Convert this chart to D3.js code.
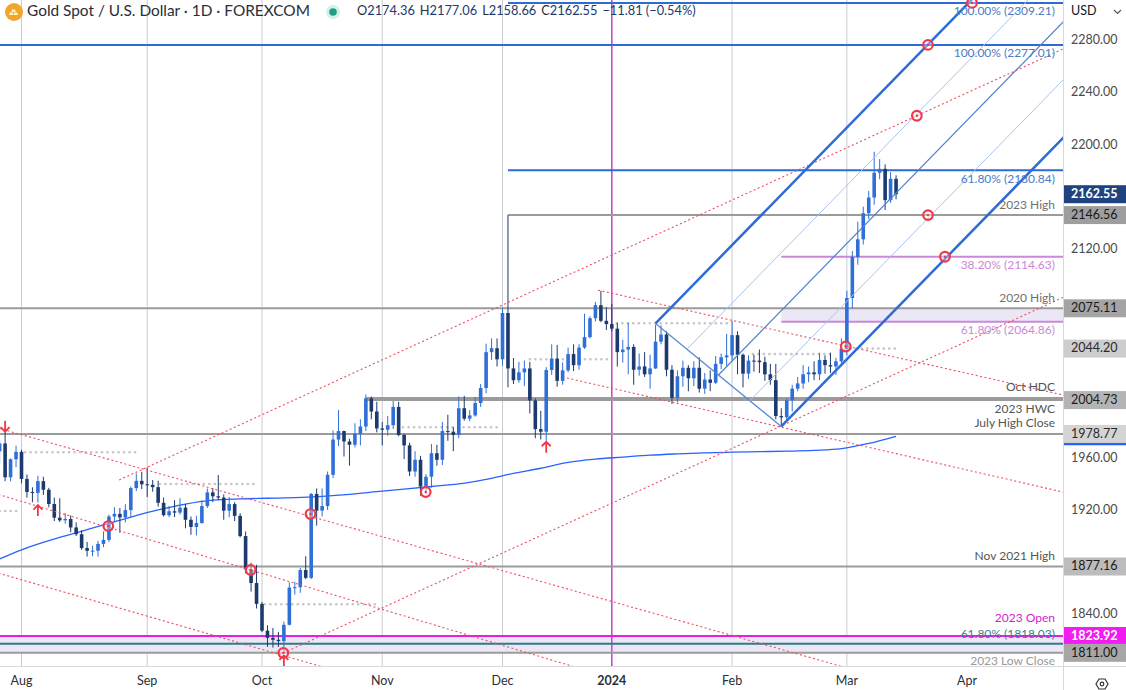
<!DOCTYPE html>
<html><head><meta charset="utf-8">
<script src="https://cdn.jsdelivr.net/npm/d3@7"></script>
<style>
body{margin:0;background:#fff;}
svg{display:block;font-family:Lato,"Open Sans",sans-serif;}
</style></head>
<body><svg id="c" width="1126" height="690"></svg>
<script>
// ---------------- DATA ----------------
const firstBarIndex = -4; // 2023-07-26 ; index 0 = 2023-08-01
const candleDates = [
"2023-07-26","2023-07-27","2023-07-28","2023-07-31",
"2023-08-01","2023-08-02","2023-08-03","2023-08-04","2023-08-07","2023-08-08","2023-08-09","2023-08-10","2023-08-11","2023-08-14","2023-08-15","2023-08-16","2023-08-17","2023-08-18","2023-08-21","2023-08-22","2023-08-23","2023-08-24","2023-08-25","2023-08-28","2023-08-29","2023-08-30","2023-08-31",
"2023-09-01","2023-09-04","2023-09-05","2023-09-06","2023-09-07","2023-09-08","2023-09-11","2023-09-12","2023-09-13","2023-09-14","2023-09-15","2023-09-18","2023-09-19","2023-09-20","2023-09-21","2023-09-22","2023-09-25","2023-09-26","2023-09-27","2023-09-28","2023-09-29",
"2023-10-02","2023-10-03","2023-10-04","2023-10-05","2023-10-06","2023-10-09","2023-10-10","2023-10-11","2023-10-12","2023-10-13","2023-10-16","2023-10-17","2023-10-18","2023-10-19","2023-10-20","2023-10-23","2023-10-24","2023-10-25","2023-10-26","2023-10-27","2023-10-30","2023-10-31",
"2023-11-01","2023-11-02","2023-11-03","2023-11-06","2023-11-07","2023-11-08","2023-11-09","2023-11-10","2023-11-13","2023-11-14","2023-11-15","2023-11-16","2023-11-17","2023-11-20","2023-11-21","2023-11-22","2023-11-23","2023-11-24","2023-11-27","2023-11-28","2023-11-29","2023-11-30",
"2023-12-01","2023-12-04","2023-12-05","2023-12-06","2023-12-07","2023-12-08","2023-12-11","2023-12-12","2023-12-13","2023-12-14","2023-12-15","2023-12-18","2023-12-19","2023-12-20","2023-12-21","2023-12-22","2023-12-26","2023-12-27","2023-12-28","2023-12-29",
"2024-01-02","2024-01-03","2024-01-04","2024-01-05","2024-01-08","2024-01-09","2024-01-10","2024-01-11","2024-01-12","2024-01-15","2024-01-16","2024-01-17","2024-01-18","2024-01-19","2024-01-22","2024-01-23","2024-01-24","2024-01-25","2024-01-26","2024-01-29","2024-01-30","2024-01-31",
"2024-02-01","2024-02-02","2024-02-05","2024-02-06","2024-02-07","2024-02-08","2024-02-09","2024-02-12","2024-02-13","2024-02-14","2024-02-15","2024-02-16","2024-02-19","2024-02-20","2024-02-21","2024-02-22","2024-02-23","2024-02-26","2024-02-27","2024-02-28","2024-02-29",
"2024-03-01","2024-03-04","2024-03-05","2024-03-06","2024-03-07","2024-03-08","2024-03-11","2024-03-12","2024-03-13","2024-03-14"];

const candleOpen = [
1965.5,1971.5,1945.6,1959.4,
1965.1,1944.3,1934.3,1933.6,1942.6,1936.0,1925.1,1914.6,1912.6,1913.6,1907.1,1901.9,1891.3,1889.2,1889.3,1894.5,1897.6,1915.5,1917.5,1914.8,1920.4,1937.3,1942.8,
1940.2,1939.8,1938.0,1926.0,1916.5,1919.5,1918.5,1922.3,1913.0,1907.5,1910.5,1923.5,1934.0,1931.0,1930.0,1920.0,1925.0,1916.0,1900.5,1875.0,1864.5,
1848.5,1828.0,1822.5,1821.0,1820.0,1832.5,1861.0,1861.3,1874.5,1868.5,1932.8,1920.0,1923.5,1947.5,1974.5,1981.0,1973.0,1970.5,1979.0,1984.5,2006.0,1996.0,
1983.0,1982.0,1985.5,1999.5,1978.0,1970.0,1950.0,1959.0,1938.5,1946.0,1964.0,1959.0,1981.0,1980.5,1978.0,1998.5,1990.5,1993.0,2002.5,2014.0,2041.5,2044.5,
2036.0,2071.5,2029.0,2020.0,2026.0,2029.0,2004.5,1982.5,1980.5,2027.8,2036.5,2019.5,2027.5,2040.0,2031.5,2045.0,2053.0,2067.5,2077.5,2065.5,
2063.0,2059.5,2041.5,2043.5,2045.5,2028.0,2030.5,2024.5,2029.0,2049.5,2055.0,2028.0,2006.5,2023.0,2029.5,2021.5,2029.5,2013.5,2020.5,2018.0,2032.5,2037.5,
2039.0,2054.5,2039.5,2025.0,2035.0,2035.0,2033.8,2024.5,2020.0,1992.5,1991.5,2004.5,2013.5,2017.5,2024.5,2026.0,2024.5,2035.5,2031.5,2030.5,2034.5,
2044.0,2083.0,2114.5,2128.0,2148.0,2160.0,2179.0,2182.0,2158.0,2174.36];

const candleHigh = [
1974.0,1982.2,1960.0,1969.8,
1966.7,1947.7,1937.9,1946.7,1946.0,1937.5,1930.0,1929.5,1918.0,1916.3,1911.0,1905.0,1896.0,1893.0,1896.8,1904.0,1917.0,1922.6,1922.0,1925.0,1938.5,1948.5,1949.8,
1953.0,1943.5,1943.0,1930.0,1923.5,1928.0,1929.5,1925.0,1915.5,1916.0,1928.0,1937.0,1937.3,1947.3,1932.5,1930.5,1926.5,1918.0,1904.0,1880.0,1878.5,
1850.0,1832.0,1830.0,1827.0,1835.0,1865.0,1865.5,1876.0,1885.0,1933.5,1937.0,1937.0,1950.0,1981.5,1997.2,1981.3,1975.0,1987.0,1990.0,2009.0,2007.5,2003.5,
1988.0,1992.5,2004.0,2003.5,1979.0,1972.0,1965.5,1962.0,1948.0,1971.0,1970.5,1988.0,1993.5,1984.0,2007.5,2008.0,1997.0,2007.0,2017.0,2048.0,2052.0,2052.0,
2075.5,2146.56,2037.0,2034.0,2035.0,2034.0,2006.0,1996.5,2030.0,2047.5,2047.0,2033.5,2045.0,2047.5,2047.5,2071.0,2069.0,2080.0,2088.5,2076.0,
2078.5,2064.0,2051.0,2064.0,2047.5,2040.5,2041.5,2039.5,2062.5,2062.0,2057.5,2031.5,2027.5,2035.0,2031.5,2034.5,2037.5,2025.5,2027.5,2038.5,2040.5,2055.5,
2065.5,2057.5,2040.5,2039.0,2039.5,2043.5,2038.0,2032.5,2032.5,1998.5,2006.0,2016.5,2022.5,2031.5,2030.5,2034.5,2041.0,2039.0,2041.0,2037.0,2052.0,
2088.5,2119.0,2141.5,2153.0,2165.0,2195.1,2189.5,2185.5,2179.5,2177.06];

const candleLow = [
1956.5,1942.6,1942.4,1953.4,
1940.9,1929.9,1926.4,1926.3,1932.0,1922.5,1912.0,1911.3,1910.0,1903.5,1900.5,1890.0,1884.8,1885.0,1884.8,1892.0,1896.0,1911.8,1903.0,1911.0,1915.0,1935.0,1936.5,
1930.5,1934.5,1923.0,1915.5,1915.0,1915.0,1917.0,1906.5,1901.5,1901.0,1910.0,1922.0,1926.5,1928.0,1913.0,1915.0,1912.0,1899.5,1872.0,1858.0,1845.0,
1827.0,1815.5,1815.0,1815.5,1810.8,1832.0,1855.5,1857.0,1867.5,1867.5,1908.5,1915.5,1920.5,1945.0,1969.5,1961.5,1954.5,1968.5,1970.0,1981.0,1990.0,1980.0,
1970.0,1977.5,1982.5,1977.0,1959.5,1946.5,1946.0,1931.5,1933.0,1937.5,1954.5,1955.0,1973.5,1965.5,1975.5,1989.0,1988.5,1992.0,1999.5,2010.0,2035.5,2030.5,
2031.0,2014.5,2017.0,2018.0,2015.5,1994.5,1975.5,1974.5,1973.5,2024.0,2015.0,2016.5,2026.0,2027.0,2028.0,2044.0,2052.0,2065.0,2064.5,2058.5,
2057.5,2030.5,2033.5,2024.5,2016.5,2023.5,2022.5,2013.5,2028.5,2047.5,2023.0,2001.8,2003.0,2015.0,2011.5,2015.5,2010.5,2009.5,2011.5,2017.0,2028.5,2031.0,
2035.0,2024.5,2014.5,2021.0,2026.5,2025.5,2019.5,2016.5,1990.0,1984.3,1989.5,1996.0,2011.5,2013.5,2018.5,2020.0,2020.0,2025.0,2025.5,2024.0,2033.0,
2039.0,2075.0,2108.5,2124.0,2143.5,2154.5,2174.0,2150.5,2156.0,2158.66];

const candleClose = [
1971.5,1945.6,1959.4,1965.1,
1944.3,1934.3,1933.6,1942.6,1936.0,1925.1,1914.6,1912.6,1913.6,1907.1,1901.9,1891.3,1889.2,1889.3,1894.5,1897.6,1915.5,1917.5,1914.8,1920.4,1937.3,1942.8,1940.2,
1939.8,1938.0,1926.0,1916.5,1919.5,1918.5,1922.3,1913.0,1907.5,1910.5,1923.5,1934.0,1931.0,1930.0,1920.0,1925.0,1916.0,1900.5,1875.0,1864.5,1848.5,
1828.0,1822.5,1821.0,1820.0,1832.5,1861.0,1861.3,1874.5,1868.5,1932.8,1920.0,1923.5,1947.5,1974.5,1981.0,1973.0,1970.5,1979.0,1984.5,2006.0,1996.0,1983.0,
1982.0,1985.5,1999.5,1978.0,1970.0,1950.0,1959.0,1938.5,1946.0,1964.0,1959.0,1981.0,1980.5,1978.0,1998.5,1990.5,1993.0,2002.5,2014.0,2041.5,2044.5,2036.0,
2071.5,2029.0,2020.0,2026.0,2029.0,2004.5,1982.5,1980.5,2027.8,2036.5,2019.5,2027.5,2040.0,2031.5,2045.0,2053.0,2067.5,2077.5,2065.5,2063.0,
2059.5,2041.5,2043.5,2045.5,2028.0,2030.5,2024.5,2029.0,2049.5,2055.0,2028.0,2006.5,2023.0,2029.5,2021.5,2029.5,2013.5,2020.5,2018.0,2032.5,2037.5,2039.0,
2054.5,2039.5,2025.0,2035.0,2034.8,2033.8,2024.5,2020.0,1992.5,1991.5,2004.5,2013.5,2017.5,2024.5,2026.0,2024.5,2035.5,2031.5,2030.5,2034.5,2044.0,
2083.0,2114.5,2128.0,2148.0,2160.0,2179.0,2182.0,2158.0,2174.36,2162.55];

// moving average (blue line), sampled at bar indices
const maIndex = [-4,0,5,10,15,20,25,30,35,40,45,50,55,60,65,70,75,80,85,90,95,100,105,110,115,120,125,130,135,140,145,150,155,160];
const maValue = [1883,1890,1897,1903,1909,1915,1920.5,1925,1928,1929,1929.5,1930,1931,1932.5,1934.5,1936.5,1938.5,1940.5,1944,1948.5,1952.5,1957,1959.5,1961,1962.5,1963.5,1964.3,1964.8,1965.2,1965.6,1966.2,1967.5,1971.5,1977];

// x-axis
const monthLabels = ["Aug","Sep","Oct","Nov","Dec","2024","Feb","Mar","Apr"];
const monthBarIndex = [0,23,44,66,88,108,130,151,173];
// y-axis
const priceTicks = [2280,2240,2200,2160,2120,2080,2040,2000,1960,1920,1880,1840,1800];

// horizontal levels
const levelPrice = [2309.21,2277.01,2180.84,2146.56,2114.63,2075.11,2064.86,2006.4,2004.73,1978.77,1877.16,1823.92,1818.03,1811.00];
const levelStartIndex = [89,-10,89,89,139,-10,139,63,63,-10,-10,-10,-10,-10];
const levelKind = ["fib","fib","fib","gray","violet","gray","violet","gray","gray","gray","gray","magenta","teal","gray"];
const zoneTop = [2075.11,1823.92], zoneBottom = [2064.86,1811.00], zoneStartIndex = [139,-10];

// right side annotation texts (offset in px from their level)
const noteText = ["100.00% (2309.21)","100.00% (2277.01)","61.80% (2180.84)","2023 High","38.20% (2114.63)","2020 High","61.80% (2064.86)","Oct HDC","2023 HWC","July High Close","Nov 2021 High","2023 Open","61.80% (1818.03)","2023 Low Close"];
const notePrice = [2309.21,2277.01,2180.84,2146.56,2114.63,2075.11,2064.86,2006.4,2004.73,1978.77,1877.16,1823.92,1818.03,1811.00];
const noteOffset = [9.5,9.5,9.5,-9.5,9.5,-9.5,9.5,-9.5,9.5,-9.5,-9.5,-17.5,-8.5,9.5];
const noteKind = ["fib","fib","fib","gray","violet","gray","violet","dark","dark","dark","dark","magenta","teal","light"];

// red dotted trend lines: two anchors (bar index, price)
const trendI1 = [17.87,47.9,-3.02,-3.93,-3.93,105.5,99.8];
const trendP1 = [1943.5,1810.9,1981.8,1932.0,1871.8,2089.0,2021.7];
const trendI2 = [163.8,139.08,50.95,41.93,38.14,150.8,190.5];
const trendP2 = [2222.7,1985.1,1917.9,1874.5,1820.8,2046.2,1934.3];
const trendExtendLeft = [false,false,true,true,true,false,false];

// pitchfork
const forkA = [116,2063.5], forkB = [139,1984.5], forkSlope = 4.29;
const forkLevels = [0,0.25,0.5,0.75,1];

// red circle markers and arrows
const markerIndex = [15.88,41.93,52.87,47.9,73.95,150.8,163.8,165.84,173.9,165.84,168.95];
const markerPrice = [1908.2,1874.5,1917.4,1810.9,1934.3,2045.8,2222.7,2277.01,2309.21,2146.56,2114.63];
const arrowIndex = [-3,3,96,48];
const arrowPrice = [1980.5,1924.3,1972.8,1809.0];
const arrowDir = ["down","up","up","up"];

// grey dotted segments
const dotStart = [-4,0.64,25.3,44.5,69.8,93,108.9,133.8,150.7];
const dotEnd = [-0.8,21.3,43.1,65,87.5,107.1,129.6,148.5,160.2];
const dotPrice = [1919.7,1964.7,1940.4,1848.2,1983.9,2036.0,2063.6,2040.0,2044.20];

// axis price badges
const badgePrice = [2162.55,2146.56,2075.11,2044.20,2004.73,1977.0,1978.77,1877.16,1823.92,1811.00];
const badgeText = ["2162.55","2146.56","2075.11","2044.20","2004.73","","1978.77","1877.16","1823.92","1811.00"];
const badgeFill = ["#1f4380","#9e9e9e","#a4a4a4","#cdcdcd","#b4b4b4","#2962ff","#d4d4d4","#bcbcbc","#f01cf0","#a6a6a6"];
const badgeInk = ["#fff","#1a1a1a","#1a1a1a","#2a2a2a","#1a1a1a","#fff","#2a2a2a","#1a1a1a","#fff","#1a1a1a"];

// ---------------- DRAW ----------------
const svg = d3.select("#c");
const PR = 1063, PB = 666;
const x = d3.scaleLinear().domain([0,160]).range([21.5, 21.5 + 160*5.466]);
const y = d3.scaleLinear().domain([1840,2280]).range([615,41]);
const UP = "#2f6fd8", DN = "#1c3a6e";

svg.append("rect").attr("width",1126).attr("height",690).attr("fill","#fff");
svg.append("defs").append("clipPath").attr("id","plot").append("rect").attr("width",PR).attr("height",PB);
const g = svg.append("g").attr("clip-path","url(#plot)");

// month grid
monthBarIndex.forEach((mi,k)=>{ if(mi<=160) g.append("line").attr("x1",x(mi)).attr("x2",x(mi)).attr("y1",0).attr("y2",PB).attr("stroke","#c9cbd1").attr("stroke-width",1); });

// zones
zoneTop.forEach((t,k)=>{ g.append("rect").attr("x",x(zoneStartIndex[k])).attr("y",y(t)).attr("width",PR-x(zoneStartIndex[k])).attr("height",y(zoneBottom[k])-y(t)).attr("fill","#ebe7f4"); });

// year divider
g.append("line").attr("x1",x(108)).attr("x2",x(108)).attr("y1",0).attr("y2",PB).attr("stroke","#c21fc2").attr("stroke-width",1.2);

// level lines
const lvlColor = {fib:"#2e6bd6",gray:"#9b9b9b",violet:"#cc86da",magenta:"#e41ee4",teal:"#2f7b8c"};
levelPrice.forEach((p,k)=>{
  g.append("line").attr("x1",x(levelStartIndex[k])).attr("x2",PR).attr("y1",y(p)).attr("y2",y(p))
   .attr("stroke",lvlColor[levelKind[k]]).attr("stroke-width",2);
});

// MA
g.append("path").datum(maIndex.map((d,k)=>[d,maValue[k]]))
 .attr("d",d3.line().x(d=>x(d[0])).y(d=>y(d[1])).curve(d3.curveMonotoneX))
 .attr("fill","none").attr("stroke","#2962ff").attr("stroke-width",1.3);

// grey dotted segments
dotPrice.forEach((p,k)=>{
  g.append("line").attr("x1",x(dotStart[k])).attr("x2",x(dotEnd[k])).attr("y1",y(p)).attr("y2",y(p))
   .attr("stroke","#c6c6c6").attr("stroke-width",2.6).attr("stroke-linecap","round").attr("stroke-dasharray","0.1 5.4");
});

// candles
const bars = candleOpen.map((o,k)=>({i:firstBarIndex+k,o,h:Math.max(candleHigh[k],o,candleClose[k]),l:Math.min(candleLow[k],o,candleClose[k]),c:candleClose[k]}));
const cg = g.append("g");
bars.forEach(b=>{
  const col = b.c>=b.o?UP:DN, cx=x(b.i);
  cg.append("line").attr("x1",cx).attr("x2",cx).attr("y1",y(b.h)).attr("y2",y(b.l)).attr("stroke",col).attr("stroke-width",1);
  const top=y(Math.max(b.o,b.c)), bot=y(Math.min(b.o,b.c));
  cg.append("rect").attr("x",cx-1.8).attr("width",3.6).attr("y",top).attr("height",Math.max(1,bot-top)).attr("fill",col);
});

// red dotted trend lines
trendI1.forEach((i1,k)=>{
  const m=(trendP2[k]-trendP1[k])/(trendI2[k]-i1);
  const a = trendExtendLeft[k]?-20:i1, b=215;
  g.append("line").attr("x1",x(a)).attr("y1",y(trendP1[k]+m*(a-i1))).attr("x2",x(b)).attr("y2",y(trendP1[k]+m*(b-i1)))
   .attr("stroke","#ee4d5e").attr("stroke-width",1.1).attr("stroke-dasharray","2 2.5");
});

// pitchfork
g.append("line").attr("x1",x(forkA[0])).attr("y1",y(forkA[1])).attr("x2",x(forkB[0])).attr("y2",y(forkB[1])).attr("stroke","#5a8bd2").attr("stroke-width",1.3);
forkLevels.forEach(t=>{
  const i0=forkA[0]+t*(forkB[0]-forkA[0]), p0=forkA[1]+t*(forkB[1]-forkA[1]), i1=215;
  const edge = (t===0||t===1), mid = t===0.5;
  g.append("line").attr("x1",x(i0)).attr("y1",y(p0)).attr("x2",x(i1)).attr("y2",y(p0+forkSlope*(i1-i0)))
   .attr("stroke",edge?"#2f6bd6":(mid?"#4f82cc":"#a8c4ec")).attr("stroke-width",edge?2.5:(mid?1.2:1));
});

// markers
markerIndex.forEach((mi,k)=>{
  g.append("circle").attr("cx",x(mi)).attr("cy",y(markerPrice[k])).attr("r",4.8)
   .attr("fill","rgba(255,255,255,0.35)").attr("stroke","#f0384c").attr("stroke-width",2.2);
  g.append("circle").attr("cx",x(mi)).attr("cy",y(markerPrice[k])).attr("r",1.2).attr("fill","#f0384c");
});
arrowIndex.forEach((ai,k)=>{
  const ax=x(ai), ay=y(arrowPrice[k]), s = arrowDir[k]==="up"?1:-1;
  g.append("path").attr("d",`M${ax},${ay}L${ax},${ay+11*s}M${ax-4.5},${ay+4.5*s}L${ax},${ay}L${ax+4.5},${ay+4.5*s}`)
   .attr("fill","none").attr("stroke","#f23645").attr("stroke-width",1.8);
});

// notes
const noteColor = {fib:"#4b7cc6",gray:"#707070",violet:"#c98ad6",dark:"#555",magenta:"#d21cd2",teal:"#3b7f93",light:"#9a9a9a"};
noteText.forEach((t,k)=>{
  svg.append("text").attr("x",1055).attr("y",y(notePrice[k])+noteOffset[k]).attr("text-anchor","end")
   .attr("dominant-baseline","middle").attr("font-size",12).attr("fill",noteColor[noteKind[k]]).text(t);
});

// axes frames
svg.append("line").attr("x1",PR+0.5).attr("x2",PR+0.5).attr("y1",0).attr("y2",690).attr("stroke","#d6d8de");
svg.append("line").attr("x1",0).attr("x2",1126).attr("y1",PB+0.5).attr("y2",PB+0.5).attr("stroke","#d6d8de");

// y axis ticks (skip those hidden under a price badge)
priceTicks.forEach(p=>{
  const yy = y(p);
  const hidden = badgePrice.some(b=>Math.abs(y(b)-yy)<16);
  if(yy>22 && yy<PB-4 && !hidden) svg.append("text").attr("x",1071).attr("y",yy).attr("dominant-baseline","middle").attr("font-size",12.5).attr("fill","#4a4a4a").text(d3.format(".2f")(p));
});
badgePrice.forEach((p,k)=>{
  svg.append("rect").attr("x",PR+1).attr("y",y(p)-9).attr("width",1126-PR-1).attr("height",18).attr("fill",badgeFill[k]);
  if(badgeText[k]) svg.append("text").attr("x",1071).attr("y",y(p)+0.5).attr("dominant-baseline","middle").attr("font-size",12.5)
     .attr("font-weight",k===0||k===8?"bold":"normal").attr("fill",badgeInk[k]).text(badgeText[k]);
});
svg.append("text").attr("x",1071).attr("y",12).attr("dominant-baseline","middle").attr("font-size",12.5).attr("fill","#131722").text("USD");
svg.append("path").attr("d","M1114,10l3.5,3.5l3.5,-3.5").attr("fill","none").attr("stroke","#555").attr("stroke-width",1.2);

// x axis labels
monthLabels.forEach((m,k)=>{
  svg.append("text").attr("x",x(monthBarIndex[k])).attr("y",682).attr("text-anchor","middle").attr("dominant-baseline","middle")
   .attr("font-size",12.5).attr("font-weight",m==="2024"?"bold":"normal").attr("fill","#2a2e39").text(m);
});
// settings icon
svg.append("path").attr("d","M1096,684l3,-5h6l3,5l-3,5h-6z").attr("fill","none").attr("stroke","#333").attr("stroke-width",1.2);
svg.append("circle").attr("cx",1102).attr("cy",684).attr("r",1.8).attr("fill","none").attr("stroke","#333").attr("stroke-width",1.2);

// header
svg.append("circle").attr("cx",14).attr("cy",12).attr("r",9).attr("fill","#f0a52c");
svg.append("path").attr("d","M9,15h4.5l-0.8,-2.6h-2.9zM13.5,15h4.5l-0.8,-2.6h-2.9zM11.3,12h4.5l-0.8,-2.6h-2.9z").attr("fill","#fff3c8");
svg.append("text").attr("x",27).attr("y",12).attr("dominant-baseline","middle").attr("font-size",15.4).attr("fill","#2a2e39")
  .text("Gold Spot / U.S. Dollar · 1D · FOREXCOM");
svg.append("circle").attr("cx",333).attr("cy",12).attr("r",7).attr("fill","#d3f0ea");
svg.append("circle").attr("cx",333).attr("cy",12).attr("r",3.8).attr("fill","#1f9d86");
const last = bars[bars.length-1], prev = bars[bars.length-2];
const chg = last.c - prev.c, pct = chg/prev.c*100;
const fmt = d3.format(".2f"), mfmt = v => (v<0?"\u2212":"+")+fmt(Math.abs(v));
const leg = svg.append("text").attr("x",357).attr("y",12).attr("dominant-baseline","middle").attr("font-size",12.8).attr("fill","#2a2e39");
[["O",fmt(last.o)],["H",fmt(last.h)],["L",fmt(last.l)],["C",fmt(last.c)]].forEach(([a,v],k)=>{
  leg.append("tspan").attr("dx",k?5:0).text(a); leg.append("tspan").attr("fill",DN).text(v);
});
leg.append("tspan").attr("dx",5).attr("fill",DN).text(mfmt(chg)+" ("+mfmt(pct)+"%)");
</script></body></html>
